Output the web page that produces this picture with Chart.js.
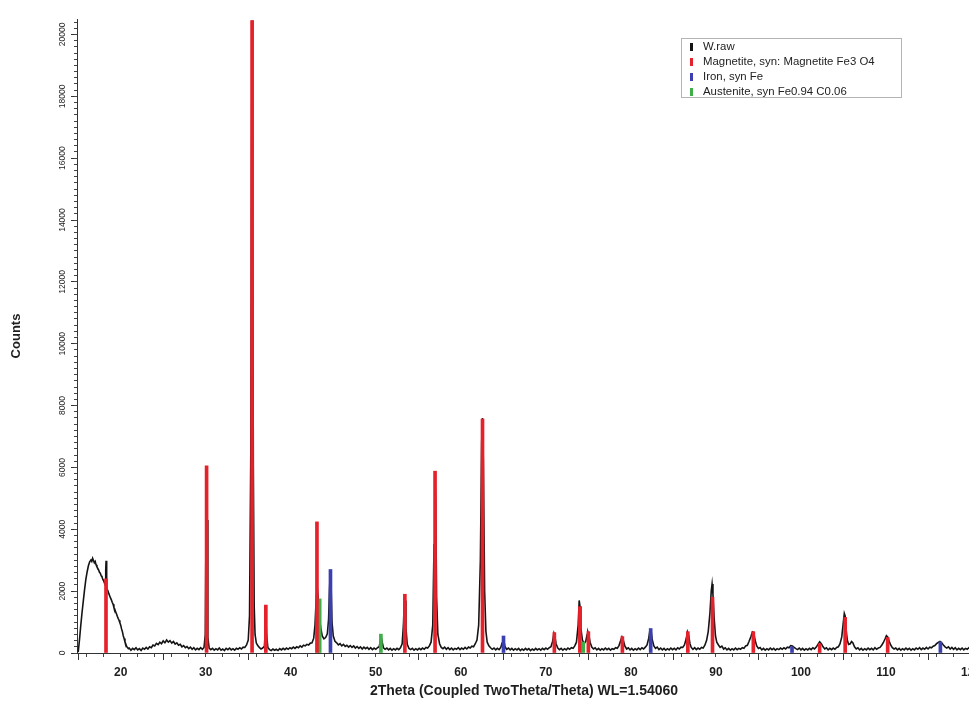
<!DOCTYPE html>
<html>
<head>
<meta charset="utf-8">
<title>W.raw - XRD pattern</title>
<script src="https://cdn.jsdelivr.net/npm/chart.js@4.4.1/dist/chart.umd.min.js"></script>
<style>
  html, body { margin: 0; padding: 0; background: #fff; overflow: hidden; }
  #wrap { position: relative; width: 969px; height: 702px; overflow: hidden; }
  #chart { position: absolute; left: 0; top: 0; }
  #legend {
    position: absolute; left: 681px; top: 38px; width: 219px; height: 58px;
    border: 1px solid #b4b4b4; background: #fff;
    font: 11.4px "Liberation Sans", Arial, sans-serif; color: #222;
  }
  #legend div { position: relative; height: 15px; line-height: 15px; padding-left: 21px; white-space: nowrap; }
  #legend i { position: absolute; left: 8px; top: 4px; width: 3px; height: 8px; }
</style>
</head>
<body>
<div id="wrap">
  <canvas id="chart" width="1000" height="702"></canvas>
  <div id="legend"></div>
</div>
<script>
// -------- data --------
var xRange = [14.86, 120];
var yMax = 20500;
var xTitle = "2Theta (Coupled TwoTheta/Theta) WL=1.54060";
var yTitle = "Counts";

var seriesNames  = ["W.raw", "Magnetite, syn: Magnetite Fe3 O4", "Iron, syn Fe", "Austenite, syn Fe0.94 C0.06"];
var seriesColors = ["#141414", "#e5212b", "#3b3fb0", "#3fae48"];

// measured pattern, [2theta, counts]
var rawPattern = [
  [15.00,30],[15.15,420],[15.30,880],[15.45,1300],[15.60,1680],[15.75,2050],[15.90,2380],[16.05,2620],
  [16.20,2820],[16.35,2950],[16.50,3010],[16.60,2960],[16.70,3060],[16.80,2990],[16.90,2920],[17.00,2960],
  [17.10,2850],[17.20,2790],[17.30,2740],[17.40,2690],[17.50,2610],[17.60,2580],[17.70,2500],[17.80,2460],
  [17.90,2380],[18.00,2330],[18.10,2260],[18.18,2200],[18.24,2700],[18.28,2980],[18.32,2650],[18.38,2080],
  [18.50,2010],[18.60,1920],[18.70,1850],[18.80,1780],[18.90,1720],[19.00,1640],[19.10,1580],[19.20,1470],
  [19.30,1420],[19.40,1330],[19.50,1270],[19.60,1190],[19.70,1120],[19.80,1060],[19.90,980],[20.00,900],
  [20.10,780],[20.20,690],[20.30,560],[20.40,470],[20.50,360],[20.60,290],[20.70,210],[20.80,180],
  [20.90,140],[21.00,160],[21.2,90],[21.4,150],[21.6,110],[21.8,170],[22.0,100],[22.2,140],[22.4,80],
  [22.6,160],[22.8,120],[23.0,180],[23.2,130],[23.4,200],[23.6,170],[23.8,260],[24.0,230],[24.2,310],
  [24.4,270],[24.6,350],[24.8,300],[25.0,390],[25.2,330],[25.4,420],[25.6,350],[25.8,400],[26.0,320],
  [26.2,370],[26.4,290],[26.6,330],[26.8,250],[27.0,280],[27.2,200],[27.4,240],[27.6,170],[27.8,210],
  [28.0,140],[28.2,190],[28.4,120],[28.6,170],[28.8,100],[29.0,150],[29.2,110],[29.4,170],[29.6,120],
  [29.8,180],[29.95,600],[30.05,4800],[30.10,6000],[30.15,4300],[30.25,500],[30.4,160],[30.6,110],
  [30.8,150],[31.0,90],[31.2,140],[31.4,100],[31.6,160],[31.8,90],[32.0,130],[32.2,80],[32.4,150],
  [32.6,110],[32.8,160],[33.0,100],[33.2,140],[33.4,90],[33.6,150],[33.8,120],[34.0,170],[34.2,130],
  [34.4,190],[34.6,180],[34.8,260],[35.0,420],[35.15,1200],[35.3,6500],[35.38,15000],[35.45,20450],
  [35.52,14500],[35.6,6000],[35.7,1500],[35.8,600],[35.95,320],[36.1,250],[36.3,180],[36.5,130],
  [36.7,160],[36.9,220],[37.0,700],[37.07,1250],[37.14,650],[37.3,180],[37.5,110],[37.7,80],[37.9,130],
  [38.1,90],[38.3,120],[38.5,80],[38.7,140],[38.9,100],[39.1,150],[39.3,110],[39.5,160],[39.7,120],
  [39.9,170],[40.1,140],[40.3,190],[40.5,150],[40.7,200],[40.9,170],[41.1,230],[41.3,190],[41.5,250],
  [41.7,230],[41.9,280],[42.1,260],[42.3,320],[42.5,330],[42.7,480],[42.85,900],[42.95,1500],[43.05,1950],
  [43.15,2000],[43.25,1700],[43.35,1300],[43.5,850],[43.7,550],[43.9,460],[44.1,500],[44.3,620],
  [44.45,1100],[44.55,2000],[44.65,2650],[44.75,2100],[44.85,1000],[45.0,550],[45.2,380],[45.4,330],
  [45.6,260],[45.8,300],[46.0,230],[46.2,280],[46.4,210],[46.6,250],[46.8,190],[47.0,240],[47.2,180],
  [47.4,230],[47.6,160],[47.8,210],[48.0,150],[48.2,200],[48.4,130],[48.6,190],[48.8,140],[49.0,180],
  [49.2,120],[49.4,170],[49.6,110],[49.8,160],[50.0,120],[50.2,170],[50.4,200],[50.55,420],[50.65,500],
  [50.75,350],[50.9,170],[51.1,120],[51.3,160],[51.5,100],[51.7,150],[51.9,90],[52.1,140],[52.3,100],
  [52.5,150],[52.7,110],[52.9,170],[53.1,300],[53.25,900],[53.38,1850],[53.46,1700],[53.55,800],
  [53.7,280],[53.9,150],[54.1,110],[54.3,150],[54.5,90],[54.7,140],[54.9,100],[55.1,150],[55.3,110],
  [55.5,160],[55.7,120],[55.9,180],[56.1,160],[56.3,230],[56.5,350],[56.7,900],[56.85,3500],[56.95,5850],
  [57.05,4800],[57.15,1800],[57.3,600],[57.5,300],[57.7,180],[57.9,140],[58.1,190],[58.3,120],[58.5,170],
  [58.7,110],[58.9,160],[59.1,100],[59.3,150],[59.5,120],[59.7,170],[59.9,110],[60.1,160],[60.3,120],
  [60.5,180],[60.7,130],[60.9,190],[61.1,160],[61.3,220],[61.5,200],[61.7,300],[61.9,420],[62.1,900],
  [62.3,3000],[62.45,6800],[62.55,7600],[62.65,6200],[62.8,2000],[62.95,700],[63.1,350],[63.3,230],
  [63.5,170],[63.7,120],[63.9,160],[64.1,100],[64.3,150],[64.5,110],[64.7,180],[64.85,320],[64.95,450],
  [65.05,420],[65.2,200],[65.4,120],[65.6,160],[65.8,100],[66.0,150],[66.2,90],[66.4,140],[66.6,100],
  [66.8,150],[67.0,80],[67.2,130],[67.4,90],[67.6,150],[67.8,100],[68.0,140],[68.2,80],[68.4,130],
  [68.6,90],[68.8,150],[69.0,100],[69.2,140],[69.4,90],[69.6,150],[69.8,110],[70.0,160],[70.2,120],
  [70.4,170],[70.6,200],[70.8,380],[70.95,640],[71.05,560],[71.2,300],[71.4,160],[71.6,110],[71.8,150],
  [72.0,90],[72.2,140],[72.4,100],[72.6,160],[72.8,120],[73.0,170],[73.2,150],[73.4,230],[73.6,350],
  [73.8,900],[73.92,1700],[74.02,1500],[74.12,800],[74.3,420],[74.5,300],[74.7,380],[74.85,600],
  [74.95,680],[75.05,600],[75.2,350],[75.4,190],[75.6,130],[75.8,170],[76.0,100],[76.2,150],[76.4,90],
  [76.6,140],[76.8,100],[77.0,160],[77.2,110],[77.4,150],[77.6,90],[77.8,140],[78.0,120],[78.2,170],
  [78.4,150],[78.6,240],[78.8,400],[78.95,520],[79.1,420],[79.3,220],[79.5,130],[79.7,170],[79.9,100],
  [80.1,150],[80.3,90],[80.5,140],[80.7,100],[80.9,160],[81.1,110],[81.3,170],[81.5,130],[81.7,190],
  [81.9,260],[82.1,480],[82.25,760],[82.35,780],[82.5,450],[82.7,230],[82.9,150],[83.1,190],[83.3,110],
  [83.5,160],[83.7,100],[83.9,150],[84.1,90],[84.3,140],[84.5,100],[84.7,160],[84.9,110],[85.1,150],
  [85.3,100],[85.5,170],[85.7,130],[85.9,190],[86.1,180],[86.3,260],[86.5,450],[86.65,680],[86.8,560],
  [86.95,300],[87.1,180],[87.3,120],[87.5,170],[87.7,110],[87.9,160],[88.1,120],[88.3,180],[88.5,160],
  [88.7,250],[88.9,400],[89.1,700],[89.3,1300],[89.45,2000],[89.55,2230],[89.65,1900],[89.8,1100],
  [89.95,550],[90.1,350],[90.3,260],[90.5,180],[90.7,220],[90.9,130],[91.1,170],[91.3,100],[91.5,150],
  [91.7,90],[91.9,140],[92.1,100],[92.3,160],[92.5,110],[92.7,150],[92.9,120],[93.1,170],[93.3,150],
  [93.5,230],[93.7,250],[93.9,380],[94.1,520],[94.3,680],[94.45,660],[94.6,420],[94.8,230],[95.0,150],
  [95.2,180],[95.4,100],[95.6,150],[95.8,90],[96.0,140],[96.2,100],[96.4,160],[96.6,110],[96.8,150],
  [97.0,90],[97.2,140],[97.4,110],[97.6,160],[97.8,120],[98.0,170],[98.2,130],[98.4,190],[98.6,170],
  [98.8,240],[99.0,230],[99.2,180],[99.4,140],[99.6,110],[99.8,160],[100.0,100],[100.2,150],[100.4,90],
  [100.6,140],[100.8,100],[101.0,150],[101.2,110],[101.4,170],[101.6,130],[101.8,190],[102.0,280],
  [102.2,360],[102.4,300],[102.6,200],[102.8,130],[103.0,170],[103.2,100],[103.4,150],[103.6,110],
  [103.8,160],[104.0,120],[104.2,180],[104.4,200],[104.6,300],[104.8,520],[104.95,900],[105.1,1280],
  [105.2,1200],[105.3,800],[105.45,420],[105.6,280],[105.8,300],[105.95,370],[106.1,330],[106.3,200],
  [106.5,130],[106.7,170],[106.9,100],[107.1,150],[107.3,90],[107.5,140],[107.7,100],[107.9,160],
  [108.1,110],[108.3,150],[108.5,100],[108.7,170],[108.9,120],[109.1,160],[109.3,180],[109.5,250],
  [109.7,340],[109.9,460],[110.05,560],[110.2,520],[110.35,400],[110.55,260],[110.75,170],[110.95,130],
  [111.15,160],[111.35,100],[111.55,150],[111.75,90],[111.95,140],[112.15,100],[112.35,160],[112.55,110],
  [112.75,150],[112.95,90],[113.15,140],[113.35,100],[113.55,160],[113.75,120],[113.95,170],[114.15,110],
  [114.35,160],[114.55,120],[114.75,180],[114.95,130],[115.15,190],[115.35,170],[115.55,220],[115.75,240],
  [115.95,300],[116.15,340],[116.35,370],[116.55,330],[116.75,260],[116.95,200],[117.15,160],[117.35,200],
  [117.55,130],[117.75,180],[117.95,120],[118.15,170],[118.35,100],[118.55,150],[118.75,110],[118.95,160],
  [119.15,100],[119.35,150],[119.55,120],[119.75,170],[120.0,120]
];

// reference sticks
var magnetiteTheta  = [18.27, 30.10, 35.45, 37.07, 43.08, 53.42, 56.97, 62.55, 71.00, 74.00, 75.00, 79.00, 86.70, 89.60, 94.40, 102.20, 105.20, 110.20];
var magnetiteCounts = [2400, 6050, 20450, 1550, 4240, 1900, 5880, 7560, 660, 1500, 690, 530, 690, 1800, 690, 300, 1150, 500];
var ironTheta       = [44.67, 65.02, 82.33, 98.95, 116.40];
var ironCounts      = [2700, 550, 790, 200, 360];
var austeniteTheta  = [43.40, 50.60, 74.40];
var austeniteCounts = [1750, 610, 350];

// -------- helpers --------
function toPoints(xs, ys) {
  return xs.map(function (x, i) { return { x: x, y: ys[i] }; });
}

function stickSet(label, xs, ys, color) {
  return {
    type: "bar",
    label: label,
    data: toPoints(xs, ys),
    backgroundColor: color,
    borderWidth: 0,
    barThickness: 3,
    grouped: false,
    order: 1
  };
}

var FONT = '"Liberation Sans", Arial, sans-serif';
var INK = "#1e1e1e";

// -------- chart --------
var ctx = document.getElementById("chart").getContext("2d");
new Chart(ctx, {
  type: "line",
  data: {
    datasets: [
      {
        label: seriesNames[0],
        data: rawPattern.map(function (p) { return { x: p[0], y: p[1] }; }),
        borderColor: seriesColors[0],
        borderWidth: 1.6,
        pointRadius: 0,
        tension: 0,
        fill: false,
        order: 2
      },
      stickSet(seriesNames[1], magnetiteTheta, magnetiteCounts, seriesColors[1]),
      stickSet(seriesNames[2], ironTheta, ironCounts, seriesColors[2]),
      stickSet(seriesNames[3], austeniteTheta, austeniteCounts, seriesColors[3])
    ]
  },
  options: {
    responsive: false,
    animation: false,
    events: [],
    layout: { padding: { top: 19, right: 29, bottom: 0, left: 0 } },
    plugins: { legend: { display: false }, tooltip: { enabled: false } },
    scales: {
      x: {
        type: "linear", position: "bottom", weight: 1,
        min: xRange[0], max: xRange[1], offset: false,
        ticks: { stepSize: 10, includeBounds: false, maxRotation: 0, minRotation: 0, padding: 5,
                 color: INK, font: { family: FONT, size: 12, weight: "bold" } },
        grid: { drawOnChartArea: false, tickLength: 7, tickColor: "#333", tickWidth: 1 },
        border: { color: "#333", width: 1 },
        title: { display: true, text: xTitle, color: INK, font: { family: FONT, size: 14, weight: "bold" }, padding: { top: 0, bottom: 2 } },
        afterFit: function (s) { s.height = 49; }
      },
      xMinor: {
        type: "linear", position: "bottom", weight: 0,
        min: xRange[0], max: xRange[1], offset: false,
        ticks: { stepSize: 2, includeBounds: false, display: false },
        grid: { drawOnChartArea: false, tickLength: 4, tickColor: "#444" },
        border: { display: false },
        afterFit: function (s) { s.height = 0; }
      },
      y: {
        type: "linear", position: "left", weight: 1,
        beginAtZero: true, max: yMax,
        ticks: { stepSize: 2000, includeBounds: false, minRotation: 90, maxRotation: 90, crossAlign: "center",
                 padding: -3, color: INK, font: { family: FONT, size: 8.5 },
                 callback: function (v) { return String(v); } },
        grid: { drawOnChartArea: false, tickLength: 6, tickColor: "#333" },
        border: { color: "#333", width: 1 },
        title: { display: true, text: yTitle, color: INK, font: { family: FONT, size: 13, weight: "bold" }, padding: { top: 9, bottom: 0 } },
        afterFit: function (s) { s.width = 77; }
      },
      yMinor: {
        type: "linear", position: "left", weight: 0,
        beginAtZero: true, max: yMax,
        ticks: { stepSize: 200, includeBounds: false, display: false },
        grid: { drawOnChartArea: false, tickLength: 3, tickColor: "#444" },
        border: { display: false },
        afterFit: function (s) { s.width = 0; }
      }
    }
  }
});

// -------- legend box --------
var legend = document.getElementById("legend");
seriesNames.forEach(function (name, i) {
  var row = document.createElement("div");
  row.innerHTML = '<i style="background:' + seriesColors[i] + '"></i>' + name;
  legend.appendChild(row);
});
</script>
</body>
</html>
